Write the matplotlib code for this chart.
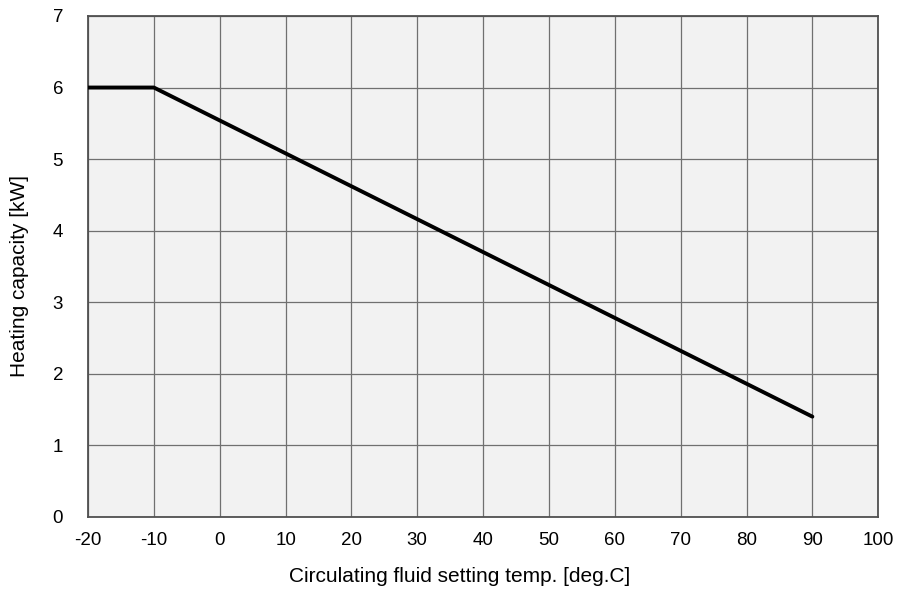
import matplotlib.pyplot as plt

plt.rcParams['font.family'] = ['Liberation Sans', 'DejaVu Sans']
plt.rcParams['axes.unicode_minus'] = False

temps = [-20, -10, 90]
capacity = [6.0, 6.0, 1.4]
xticks = list(range(-20, 101, 10))
yticks = list(range(0, 8))

fig = plt.figure(figsize=(8.98, 5.92), dpi=100)
ax = fig.add_axes([0.098, 0.127, 0.88, 0.846])
ax.set_facecolor('#f2f2f2')

ax.plot(temps, capacity, color='black', lw=2.8, solid_capstyle='round', zorder=3)

ax.set_xlim(-20, 100)
ax.set_ylim(0, 7)
ax.set_xticks(xticks)
ax.set_yticks(yticks)
ax.grid(True, color='#707070', lw=0.9)
ax.tick_params(length=0, labelsize=13.5, pad=11, colors='black')
ax.tick_params(axis='y', pad=18)
for s in ax.spines.values():
    s.set_color('#505050')
    s.set_linewidth(1.3)

ax.set_xlabel('Circulating fluid setting temp. [deg.C]', fontsize=15)
ax.set_ylabel('Heating capacity [kW]', fontsize=15)
ax.xaxis.set_label_coords(0.47, -0.1)
ax.yaxis.set_label_coords(-0.075, 0.48)

fig.savefig('out.png', dpi=100)
